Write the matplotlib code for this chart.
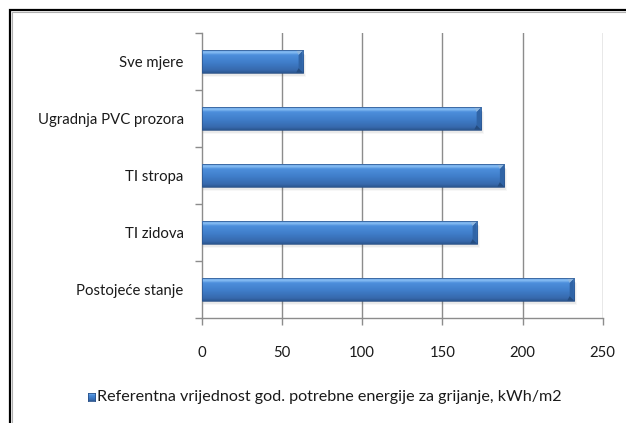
import numpy as np
import matplotlib
matplotlib.use("Agg")
import matplotlib.pyplot as plt
from matplotlib.patches import Rectangle, Polygon
from matplotlib.colors import LinearSegmentedColormap

categories = ["Postojeće stanje", "TI zidova", "TI stropa", "Ugradnja PVC prozora", "Sve mjere"]
values = [232, 171.5, 188.5, 174, 63]
x_ticks = [0, 50, 100, 150, 200, 250]
legend_label = "Referentna vrijednost god. potrebne energije za grijanje, kWh/m2"

plt.rcParams["font.family"] = ["Lato", "DejaVu Sans"]

W, H, DPI = 626, 423, 100
fig = plt.figure(figsize=(W / DPI, H / DPI), dpi=DPI)
fig.patch.set_facecolor("white")

ax = fig.add_axes([201.7 / W, 1 - 318 / H, 401 / W, 285 / H])
ax.set_xlim(0, 250)
ax.set_ylim(-0.5, len(categories) - 0.5)

grid_col = "#8c8c8c"
for x in x_ticks[1:]:
    ax.axvline(x, color=grid_col, lw=1.0, zorder=0)

bar_h = 0.39
grad = LinearSegmentedColormap.from_list(
    "bar", [(0.0, "#2b568f"), (0.12, "#3769ad"), (0.45, "#3f7dc9"),
            (0.8, "#4d8fdc"), (0.9, "#86bdf3"), (1.0, "#6aa5e6")])
gimg = np.linspace(0, 1, 64).reshape(-1, 1)

for i, v in enumerate(values):
    y0 = i - bar_h / 2
    # soft shadow under the bar
    for k, a in enumerate([0.10, 0.07, 0.04]):
        sh = Rectangle((0, y0 - 0.03 - 0.025 * k), v + 0.8 + 0.6 * k, bar_h,
                       facecolor="#404040", alpha=a, lw=0, zorder=1)
        ax.add_patch(sh)
    rect = Rectangle((0, y0), v, bar_h, facecolor="#3b74bd", lw=0, zorder=2)
    ax.add_patch(rect)
    im = ax.imshow(gimg, cmap=grad, aspect="auto", origin="lower",
                   extent=(0, v, y0, y0 + bar_h), zorder=3, interpolation="bilinear")
    im.set_clip_path(rect)
    # bevelled right end
    bx = 2.6
    by = bar_h * 0.2
    ax.add_patch(Polygon([(v - bx, y0 + by), (v, y0), (v, y0 + bar_h), (v - bx, y0 + bar_h - by)],
                         closed=True, facecolor="#3064a6", lw=0, zorder=4))
    ax.add_patch(Polygon([(v - bx, y0 + bar_h - by), (v, y0 + bar_h), (v - bx - 1.5, y0 + bar_h)],
                         closed=True, facecolor="#8fb6de", lw=0, zorder=4))
    ax.add_patch(Polygon([(v - bx, y0 + by), (v, y0), (v - bx - 1.5, y0)],
                         closed=True, facecolor="#244c80", lw=0, zorder=4))
    ax.add_patch(Rectangle((0, y0), v, bar_h, facecolor="none", edgecolor="#2a528a",
                           lw=0.5, zorder=5))

ax.set_xticks(x_ticks)
ax.set_xticklabels([str(t) for t in x_ticks])
ax.set_yticks(range(len(categories)))
ax.set_yticklabels(categories)
ax.set_yticks(np.arange(-0.5, len(categories), 1.0), minor=True)

ax.tick_params(axis="y", which="major", length=0, pad=13, labelsize=10.7, labelcolor="#1a1a1a")
ax.tick_params(axis="y", which="minor", length=5, width=1, color=grid_col, direction="out")
ax.tick_params(axis="x", which="major", length=5, width=1, color=grid_col, direction="out",
               pad=15, labelsize=10.7, labelcolor="#1a1a1a")

for s in ["top", "right"]:
    ax.spines[s].set_visible(False)
for s in ["left", "bottom"]:
    ax.spines[s].set_color(grid_col)
    ax.spines[s].set_linewidth(1.0)

# legend below the plot
lx, ly = 91.5 / W, 1 - 397 / H
sq = 7.5
lax = fig.add_axes([(lx * W - sq / 2) / W, (ly * H - sq / 2) / H, sq / W, sq / H])
lax.imshow(gimg, cmap=grad, aspect="auto", origin="lower", extent=(0, 1, 0, 1))
lax.set_xlim(0, 1)
lax.set_ylim(0, 1)
lax.set_xticks([])
lax.set_yticks([])
for s in lax.spines.values():
    s.set_color("#2a528a")
    s.set_linewidth(0.6)
fig.text(97 / W, ly, legend_label, ha="left", va="center", fontsize=11.6, color="#1a1a1a")

# chart frame
fig.add_artist(Rectangle((10 / W, -0.1), 1.2, 1 - 10.5 / H + 0.1, transform=fig.transFigure,
                         facecolor="none", edgecolor="black", lw=1.6))
fig.add_artist(Rectangle((12 / W, -0.1), 1.2, 1 - 12.5 / H + 0.1, transform=fig.transFigure,
                         facecolor="none", edgecolor="#b0b0b0", lw=0.8))

fig.savefig("out.png", dpi=DPI, facecolor="white")
